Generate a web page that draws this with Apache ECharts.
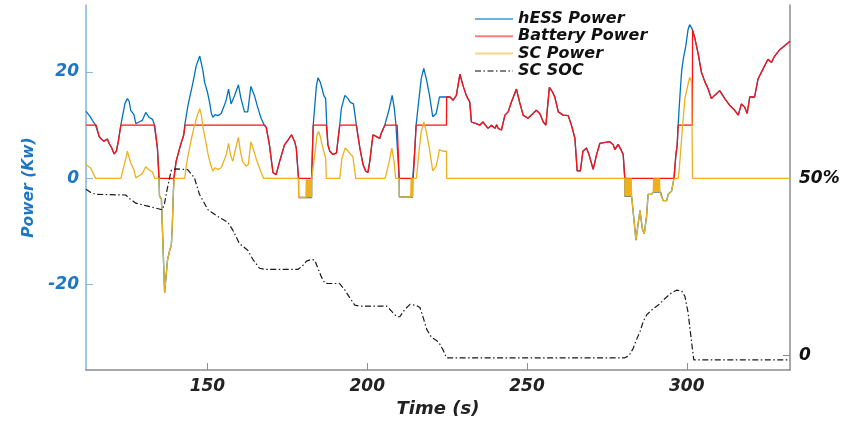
<!DOCTYPE html>
<html><head><meta charset="utf-8">
<script src="https://cdn.jsdelivr.net/npm/echarts@6/dist/echarts.min.js"></script>
<style>html,body{margin:0;padding:0;background:#fff}#c{width:851px;height:423px}</style>
</head><body><div id="c"></div>
<script>
// ---- data: [time (s), value] ----
const xTicks = [150, 200, 250, 300];
const powerTicks = [-20, 0, 20];
const socTicks = [0, 50];
const seriesNames = ['hESS Power', 'Battery Power', 'SC Power', 'SC SOC'];

const hessPower = [[112,12.6],[113.2,11.7],[114,10.9],[115,10],[116.1,7.9],[116.6,7.5],[117.1,7.6],[117.6,7.0],[118.2,7.2],[118.7,7.4],[119.2,6.6],[120,5.8],[120.8,4.6],[121.5,5.1],[122.1,6.9],[122.9,10],[124.2,14.1],[124.95,15.0],[125.5,14.5],[126,12.8],[127,12.0],[127.6,10.3],[128.6,10.6],[129.6,10.9],[130.7,12.4],[131.7,11.5],[132.8,11.1],[133.3,10.3],[133.5,10],[134.35,5.7],[134.85,0],[135,-3.3],[135.6,-3.9],[136.6,-21.5],[137.5,-15.4],[138.2,-13.5],[138.7,-12.6],[139,-9],[139.3,-3.3],[139.5,0],[140.2,3.2],[141.6,6.3],[142.6,8.2],[142.9,10],[143.9,13.7],[145.5,18.1],[146.5,21.2],[147.6,23.0],[148.6,20.2],[149.1,18.1],[150,16.2],[150.7,14.2],[151.2,12.3],[151.7,11.5],[152.4,12.0],[153.3,11.8],[154.3,12.2],[155.1,13.4],[155.9,14.8],[156.6,16.8],[157.4,14.0],[158.5,15.6],[159.7,17.6],[160.5,15.0],[161.6,12.5],[162.6,12.5],[163.6,17.3],[164.7,15.6],[165.7,13.4],[166.8,11.3],[167.8,10],[168.4,9.6],[169.4,6.3],[170.5,1.1],[171.5,0.7],[172.6,3.2],[174.1,6.3],[175.2,7.2],[176.3,8.2],[176.8,8.3],[177.3,6.9],[177.8,5.7],[178.5,0],[178.55,-3.6],[182.6,-3.6],[182.62,0],[182.85,5],[183.1,10],[183.6,13.7],[184.1,17.4],[184.6,18.9],[185.3,18.1],[185.9,16.8],[186.4,15.6],[187,15.0],[187.3,10.5],[187.7,6.3],[188.3,5.1],[189.3,4.5],[190.4,4.8],[190.9,7.5],[191.4,10],[191.9,13.1],[193,15.6],[194,15.0],[194.7,14.3],[195.7,14.0],[196.6,10],[197.7,5.7],[198.7,2.6],[199.5,1.4],[200.2,1.1],[200.8,3.2],[201.8,8.2],[202.8,7.9],[203.9,7.5],[204.4,8.5],[205.5,10],[205.7,10],[206.9,13.1],[207.8,15.6],[208.5,13.1],[209,10],[209.4,10],[210,0],[210.05,-3.5],[214.2,-3.5],[214.25,0],[214.4,0],[214.9,5.5],[215.3,10],[215.4,10],[216.2,15.0],[216.9,18.7],[217.7,20.7],[218.5,18.7],[219.5,15.6],[220.5,11.6],[221.6,12.2],[222.6,15.3],[223.7,15.3],[224.8,15.3],[225.9,15.3],[226.9,14.7],[227.9,15.6],[229,19.6],[230,17.4],[231,15.6],[232.1,14.3],[232.6,10.6],[233.1,10.3],[234.1,10.3],[235.2,10.0],[236.2,10.6],[236.7,10.5],[237.8,9.4],[238.9,10.0],[240,9.4],[240.5,10.1],[241,9.4],[242,9.1],[243.1,11.9],[244.1,12.5],[245.1,14.3],[246.7,16.8],[247.7,14.3],[248.8,11.9],[250.3,11.3],[251.9,12.2],[252.9,12.8],[254,12.2],[255.1,10.6],[255.9,10.0],[257,17.1],[258,16.2],[258.7,15.3],[259.8,12.5],[261.3,11.9],[262.9,11.8],[263.9,10.0],[265,7.5],[265.7,1.4],[266.7,1.4],[267.5,5.1],[268.6,5.7],[269.4,4.5],[270.7,1.7],[271.8,4.5],[272.8,6.6],[274.9,6.8],[275.9,6.9],[277,6.3],[277.5,5.4],[278.5,6.4],[279.4,5.4],[280.1,4.5],[280.6,0],[280.65,-3.4],[282.75,-3.4],[284.1,-11.6],[285.35,-6.0],[286.1,-9.5],[286.7,-10.4],[287.4,-7.2],[287.9,-3.0],[289,-3.0],[289.5,-2.6],[291.8,-2.6],[292.6,-4.2],[293.7,-4.2],[294.2,-3.0],[295.25,-2.4],[295.6,-1.2],[296,0],[296.6,4.5],[297,6.3],[297.3,10],[297.6,13.1],[298,16.8],[298.4,20.2],[298.9,22.4],[299.7,24.9],[300.4,28.0],[300.9,28.9],[301.5,28.3],[301.8,27.9],[302,27.6],[302.5,26.4],[303.6,23.3],[304.6,19.9],[305.7,18.1],[306.7,16.8],[307.7,15.0],[308.7,15.6],[310.3,16.5],[311.9,15.0],[313.5,13.7],[315,12.8],[316.1,11.9],[317.1,14.0],[318.1,13.4],[318.9,12.2],[319.7,15.3],[321.2,15.3],[322.3,18.7],[323.8,20.5],[325.4,22.4],[326.5,21.8],[327.5,23.0],[329.1,24.2],[332.3,25.8]];

const batteryPower = [[112,10],[115.2,10],[116.1,7.9],[116.6,7.5],[117.1,7.6],[117.6,7.0],[118.2,7.2],[118.7,7.4],[119.2,6.6],[120,5.8],[120.8,4.6],[121.5,5.1],[122.1,6.9],[122.9,10],[133.5,10],[134.35,5.7],[134.85,0],[139.5,0],[140.2,3.2],[141.6,6.3],[142.6,8.2],[143,10],[167.9,10],[168.4,9.6],[169.4,6.3],[170.5,1.1],[171.5,0.7],[172.6,3.2],[174.1,6.3],[175.2,7.2],[176.3,8.2],[176.8,8.3],[177.3,6.9],[177.8,5.7],[178.5,0],[182.6,0],[182.85,5],[183.1,10],[187.2,10],[187.7,6.3],[188.3,5.1],[189.3,4.5],[190.4,4.8],[190.9,7.5],[191.4,10],[196.6,10],[197.7,5.7],[198.7,2.6],[199.5,1.4],[200.2,1.1],[200.8,3.2],[201.8,8.2],[202.8,7.9],[203.9,7.5],[204.4,8.5],[205.5,10],[209.4,10],[210,0],[214.4,0],[214.9,5.5],[215.3,10],[224.8,10],[224.85,15.3],[225.9,15.3],[226.9,14.7],[227.9,15.6],[229,19.6],[230,17.4],[231,15.6],[232.1,14.3],[232.6,10.6],[233.1,10.3],[234.1,10.3],[235.2,10.0],[236.2,10.6],[236.7,10.5],[237.8,9.4],[238.9,10.0],[240,9.4],[240.5,10.1],[241,9.4],[242,9.1],[243.1,11.9],[244.1,12.5],[245.1,14.3],[246.7,16.8],[247.7,14.3],[248.8,11.9],[250.3,11.3],[251.9,12.2],[252.9,12.8],[254,12.2],[255.1,10.6],[255.9,10.0],[257,17.1],[258,16.2],[258.7,15.3],[259.8,12.5],[261.3,11.9],[262.9,11.8],[263.9,10.0],[265,7.5],[265.7,1.4],[266.7,1.4],[267.5,5.1],[268.6,5.7],[269.4,4.5],[270.7,1.7],[271.8,4.5],[272.8,6.6],[274.9,6.8],[275.9,6.9],[277,6.3],[277.5,5.4],[278.5,6.4],[279.4,5.4],[280.1,4.5],[280.6,0],[296,0],[296.6,4.5],[297,6.3],[297.3,10],[301.75,10],[301.8,27.9],[302,27.6],[302.5,26.4],[303.6,23.3],[304.6,19.9],[305.7,18.1],[306.7,16.8],[307.7,15.0],[308.7,15.6],[310.3,16.5],[311.9,15.0],[313.5,13.7],[315,12.8],[316.1,11.9],[317.1,14.0],[318.1,13.4],[318.9,12.2],[319.7,15.3],[321.2,15.3],[322.3,18.7],[323.8,20.5],[325.4,22.4],[326.5,21.8],[327.5,23.0],[329.1,24.2],[332.3,25.8]];

const scPower = [[112,2.6],[113.5,1.9],[115,0],[122.9,0],[124.2,3.1],[124.95,5.1],[126,2.9],[127,1.6],[127.6,0.1],[128.6,0.5],[129.6,0.9],[130.7,2.2],[131.7,1.6],[132.8,1.2],[133.5,0],[134.85,0],[135,-3.3],[135.6,-3.9],[136.6,-21.5],[137.5,-15.4],[138.2,-13.5],[138.7,-12.6],[139,-9],[139.3,-3.3],[139.6,0],[142.9,0],[143.4,2.5],[144.2,5.1],[145,7.5],[145.8,9.6],[146.8,11.8],[147.6,13.1],[148.1,11.9],[148.6,9.6],[149.3,7.5],[150.2,4.5],[151,2.6],[151.7,1.4],[152.4,2.0],[153.3,1.7],[154.3,2.0],[155.1,3.2],[155.9,4.5],[156.6,6.6],[157.2,4.5],[157.9,3.2],[159,6.0],[159.7,7.7],[160.3,5.1],[161,3.2],[162.1,2.3],[162.8,2.6],[163.6,6.9],[164.4,5.4],[165.2,3.8],[165.9,2.6],[166.8,1.1],[167.6,0],[178.5,0],[178.55,-3.6],[180.8,-3.6],[180.95,-0.2],[181.1,-3.6],[181.25,-0.2],[181.4,-3.6],[181.55,-0.2],[181.7,-3.6],[181.85,-0.2],[182,-3.6],[182.15,-0.2],[182.3,-3.6],[182.45,-0.2],[182.58,-3.6],[182.62,0],[183,0],[183.6,4.5],[184.3,8.2],[184.8,8.8],[185.3,7.9],[185.9,6.3],[186.4,5.1],[187,3.8],[187.2,0],[191.4,0],[192.1,3.8],[193.1,5.7],[194.1,5.1],[194.8,4.5],[195.5,4.1],[196.4,0],[205.6,0],[206.9,3.2],[207.7,5.7],[208.4,3.2],[208.9,0],[210,0],[210.05,-3.5],[213.6,-3.5],[213.75,0],[213.9,-3.5],[214.05,0],[214.15,-3.5],[214.2,0],[215.4,0],[216.2,5.1],[216.9,8.8],[217.7,10.6],[218.5,8.8],[219.5,5.4],[220.5,1.4],[221.6,2.3],[222.6,5.4],[223.7,5.1],[224.8,5.1],[224.85,0],[280.6,0],[280.65,-3.4],[280.8,0],[280.95,-3.4],[281.1,0],[281.25,-3.4],[281.4,0],[281.55,-3.4],[281.7,0],[281.85,-3.4],[282,0],[282.15,-3.4],[282.3,0],[282.45,-3.4],[282.6,0],[282.75,-3.4],[284.1,-11.6],[285.35,-6.0],[286.1,-9.5],[286.7,-10.4],[287.4,-7.2],[287.9,-3.0],[289,-3.0],[289.5,-2.6],[289.65,0],[289.8,-2.6],[289.95,0],[290.1,-2.6],[290.25,0],[290.4,-2.6],[290.55,0],[290.7,-2.6],[290.85,0],[291,-2.6],[291.15,0],[291.3,-2.6],[291.45,0],[291.6,-2.6],[291.8,-2.6],[292.6,-4.2],[293.7,-4.2],[294.2,-3.0],[295.25,-2.4],[295.6,-1.2],[296,0],[297.3,0],[297.6,1.4],[298,4.5],[298.7,10],[299.4,15],[300.4,17.7],[300.9,19.0],[301.5,18.1],[301.75,18.0],[301.8,0],[332.3,0]];

const scSOC = [[112,46.9],[113.5,46.0],[115,45.5],[124.4,45.3],[125.9,44.1],[127.6,43.0],[130.7,42.3],[134.3,41.5],[135.9,41.1],[136.6,43.0],[137.3,46.5],[138,49.5],[138.7,52.3],[140.2,52.7],[143.8,52.5],[145.9,50.2],[147.5,45.5],[150.2,41.1],[153.3,39.2],[156.4,37.6],[158,35.3],[160,31.6],[162.6,29.7],[164.3,27.0],[166.3,24.6],[167.9,24.3],[178.4,24.3],[180,25.5],[181,26.6],[182.5,27.1],[183.6,26.9],[184.6,24.5],[185.6,22.3],[186.7,20.4],[187.7,20.3],[191.3,20.3],[192.9,18.6],[194.5,16.3],[196.1,14.2],[197.7,13.9],[206.1,13.9],[207.6,12.5],[209.2,10.9],[210.2,10.9],[211.8,13.0],[213.4,14.4],[215.4,14.1],[216.5,13.5],[217.5,10.7],[218.6,7.4],[220.1,5.1],[221.7,4.2],[222.7,3.2],[223.8,1.4],[224.8,-0.7],[280.6,-0.7],[281.5,-0.3],[282.3,0.5],[283.2,1.9],[284.3,4.5],[285.4,6.8],[286.4,9.6],[287.5,11.5],[289.5,13.2],[291.5,14.5],[293.1,16.0],[295.3,17.7],[296.8,18.4],[298.4,18.2],[299.4,16.7],[300.4,12.1],[301.5,3.7],[302.2,-1.3],[332.3,-1.3]];

// ---- chart ----
const FONT = '"DejaVu Sans", sans-serif';
const BLUE = '#0072BD', RED = '#FF1010', YELLOW = '#EDB120', SOCCOL = '#1a1a1a';
const labelStyle = (color, size) => ({ fontFamily: FONT, fontWeight: 'bold', fontStyle: 'italic', fontSize: size, color: color });

const chart = echarts.init(document.getElementById('c'), null, { renderer: 'canvas' });
chart.setOption({
  animation: false,
  backgroundColor: '#ffffff',
  grid: { left: 86, right: 61, top: 5, bottom: 48, containLabel: false },
  legend: {
    orient: 'vertical', left: 469, top: 6,
    itemWidth: 38, itemHeight: 12, itemGap: 1.3,
    data: seriesNames,
    itemStyle: { opacity: 0, borderWidth: 0 },
    lineStyle: { width: 2, opacity: 0.55 },
    textStyle: Object.assign(labelStyle('#111', 16), { lineHeight: 16 })
  },
  xAxis: {
    type: 'value', min: 112, max: 332.3,
    name: 'Time (s)', nameLocation: 'middle', nameGap: 24,
    nameTextStyle: labelStyle('#222', 18),
    axisLine: { onZero: false, lineStyle: { color: '#8c8c8c', width: 1.5 } },
    axisTick: { inside: true, length: 7, customValues: xTicks, lineStyle: { color: '#8c8c8c', width: 1 } },
    axisLabel: Object.assign({ customValues: xTicks, margin: 8 }, labelStyle('#222', 17)),
    splitLine: { show: false }
  },
  yAxis: [
    {
      type: 'value', min: -36.05, max: 32.6, position: 'left',
      name: 'Power (Kw)', nameLocation: 'middle', nameGap: 48,
      nameTextStyle: labelStyle('#1f77c4', 15.5),
      axisLine: { show: true, onZero: false, lineStyle: { color: '#86b8e4', width: 1.6 } },
      axisTick: { show: true, inside: true, length: 7, customValues: powerTicks, lineStyle: { color: '#86b8e4', width: 1 } },
      axisLabel: Object.assign({ customValues: powerTicks, margin: 7 }, labelStyle('#1f77c4', 17)),
      splitLine: { show: false }
    },
    {
      type: 'value', min: -4.18, max: 99, position: 'right',
      axisLine: { show: true, onZero: false, lineStyle: { color: '#8c8c8c', width: 1.5 } },
      axisTick: { show: true, inside: true, length: 7, customValues: socTicks, lineStyle: { color: '#8c8c8c', width: 1 } },
      axisLabel: Object.assign({ customValues: socTicks, margin: 9, formatter: v => (v === 0 ? '0' : v + '%') }, labelStyle('#111', 17)),
      splitLine: { show: false }
    }
  ],
  series: [
    { name: seriesNames[0], type: 'line', data: hessPower, symbol: 'none', z: 2,
      lineStyle: { color: BLUE, width: 1.3 }, itemStyle: { color: BLUE } },
    { name: seriesNames[1], type: 'line', data: batteryPower, symbol: 'none', z: 3,
      lineStyle: { color: RED, width: 1.3 }, itemStyle: { color: RED } },
    { name: seriesNames[2], type: 'line', data: scPower, symbol: 'none', z: 4,
      lineStyle: { color: YELLOW, width: 1.3 }, itemStyle: { color: YELLOW } },
    { name: seriesNames[3], type: 'line', data: scSOC, yAxisIndex: 1, symbol: 'none', z: 5,
      lineStyle: { color: SOCCOL, width: 1.2, type: [6, 2.5, 1.5, 2.5] }, itemStyle: { color: SOCCOL } }
  ]
});
</script>
</body></html>
